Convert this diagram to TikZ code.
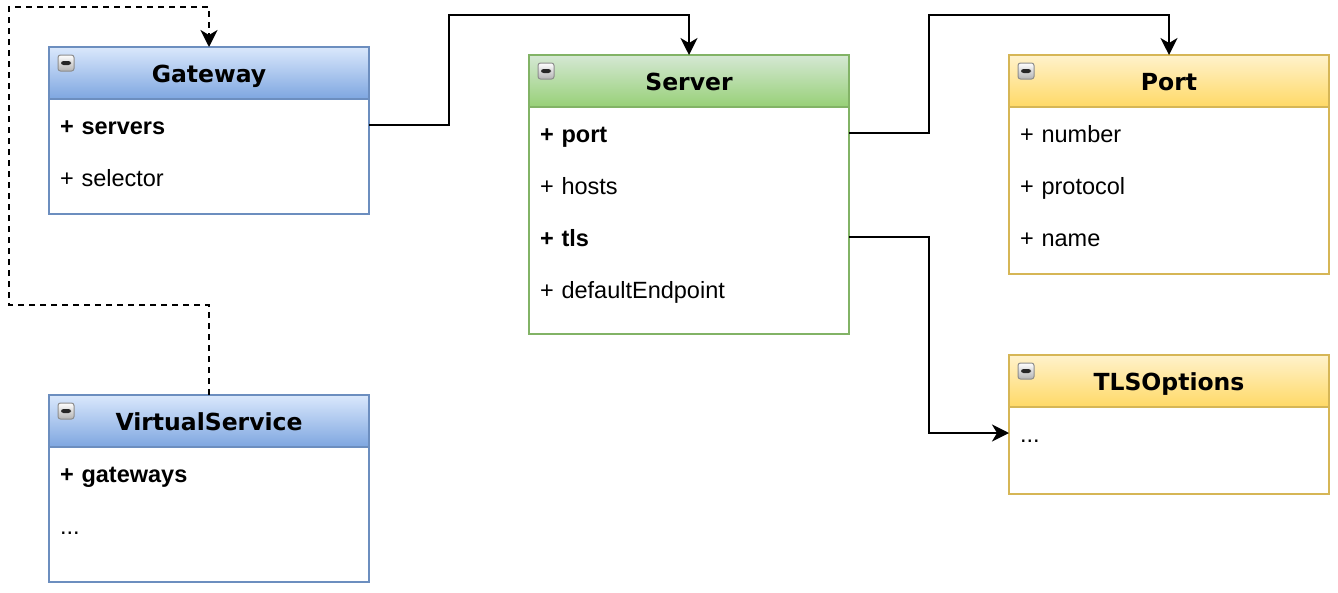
\documentclass[tikz,border=0pt]{standalone}
\usepackage{fontspec}
\setmainfont{Liberation Sans}
\newfontfamily\verdana{DejaVu Sans}
\usetikzlibrary{arrows.meta}

\definecolor{blueline}{HTML}{6C8EBF}
\definecolor{bluetop}{HTML}{DAE8FC}
\definecolor{bluebot}{HTML}{7EA6E0}
\definecolor{greenline}{HTML}{82B366}
\definecolor{greentop}{HTML}{D5E8D4}
\definecolor{greenbot}{HTML}{97D077}
\definecolor{yellowline}{HTML}{D6B656}
\definecolor{yellowtop}{HTML}{FFF2CC}
\definecolor{yellowbot}{HTML}{FFD966}

\begin{document}
\begin{tikzpicture}[x=1pt, y=-1pt,
  every node/.style={inner sep=0pt, outer sep=0pt},
  classbox/.style={draw, line width=2pt, fill=white, minimum width=320pt, anchor=north west},
  head/.style={draw, line width=2pt, minimum width=320pt, minimum height=52pt, anchor=north west,
    text height=20pt, text depth=2pt, font=\verdana\bfseries\fontsize{23.5}{28}\selectfont},
  bluehead/.style={head, draw=blueline, top color=bluetop, bottom color=bluebot},
  greenhead/.style={head, draw=greenline, top color=greentop, bottom color=greenbot},
  yellowhead/.style={head, draw=yellowline, top color=yellowtop, bottom color=yellowbot},
  attr/.style={minimum height=52pt, text width=298pt, inner xsep=11pt, align=left, anchor=north west,
    text height=20pt, text depth=2pt, font=\fontsize{23.5}{28}\selectfont},
  key/.style={attr, font=\bfseries\fontsize{23.5}{28}\selectfont},
  fold/.style={draw=black!45, line width=1pt, rounded corners=2.5pt, minimum width=16pt, minimum height=16pt,
    anchor=north west, top color=white, bottom color=black!30,
    path picture={\fill[black!85] ([xshift=3pt,yshift=2pt]path picture bounding box.west)
      rectangle ([xshift=-3pt,yshift=-2pt]path picture bounding box.east);}},
  link/.style={line width=2pt, -{Stealth[length=17pt, width=17pt, inset=5pt]}}
]
\useasboundingbox (0,0) rectangle (1338,592);

% Gateway
\node (gw) [classbox, draw=blueline, minimum height=167pt] at (49,47) {};
\node (gw-head) [bluehead] at (49,47) {Gateway};
\node (gw-icon) [fold] at ([xshift=9pt,yshift=-8pt]gw-head.north west) {};
\node (gw-servers) [key] at (gw-head.south west) {+ servers};
\node (gw-selector) [attr] at (gw-servers.south west) {+ selector};

% VirtualService
\node (vs) [classbox, draw=blueline, minimum height=187pt] at (49,395) {};
\node (vs-head) [bluehead] at (49,395) {VirtualService};
\node (vs-icon) [fold] at ([xshift=9pt,yshift=-8pt]vs-head.north west) {};
\node (vs-gateways) [key] at (vs-head.south west) {+ gateways};
\node (vs-dots) [attr] at (vs-gateways.south west) {...};

% Server
\node (srv) [classbox, draw=greenline, minimum height=279pt] at (529,55) {};
\node (srv-head) [greenhead] at (529,55) {Server};
\node (srv-icon) [fold] at ([xshift=9pt,yshift=-8pt]srv-head.north west) {};
\node (srv-port) [key] at (srv-head.south west) {+ port};
\node (srv-hosts) [attr] at (srv-port.south west) {+ hosts};
\node (srv-tls) [key] at (srv-hosts.south west) {+ tls};
\node (srv-default) [attr] at (srv-tls.south west) {+ defaultEndpoint};

% Port
\node (port) [classbox, draw=yellowline, minimum height=219pt] at (1009,55) {};
\node (port-head) [yellowhead] at (1009,55) {Port};
\node (port-icon) [fold] at ([xshift=9pt,yshift=-8pt]port-head.north west) {};
\node (port-number) [attr] at (port-head.south west) {+ number};
\node (port-protocol) [attr] at (port-number.south west) {+ protocol};
\node (port-name) [attr] at (port-protocol.south west) {+ name};

% TLSOptions
\node (tls) [classbox, draw=yellowline, minimum height=139pt] at (1009,355) {};
\node (tls-head) [yellowhead] at (1009,355) {TLSOptions};
\node (tls-icon) [fold] at ([xshift=9pt,yshift=-8pt]tls-head.north west) {};
\node (tls-dots) [attr] at (tls-head.south west) {...};

% connectors
\draw[link] (gw-servers.east) -- ++(80,0) |- ([yshift=40pt]srv-head.north) -- (srv-head.north);
\draw[link] (srv-port.east) -- ++(80,0) |- ([yshift=40pt]port-head.north) -- (port-head.north);
\draw[link] (srv-tls.east) -- ++(80,0) |- (tls-dots.west);
\draw[link, dash pattern=on 6pt off 5pt] (vs-head.north) |- ++(-200,-90) |- ([yshift=40pt]gw-head.north) -- (gw-head.north);
\end{tikzpicture}
\end{document}
